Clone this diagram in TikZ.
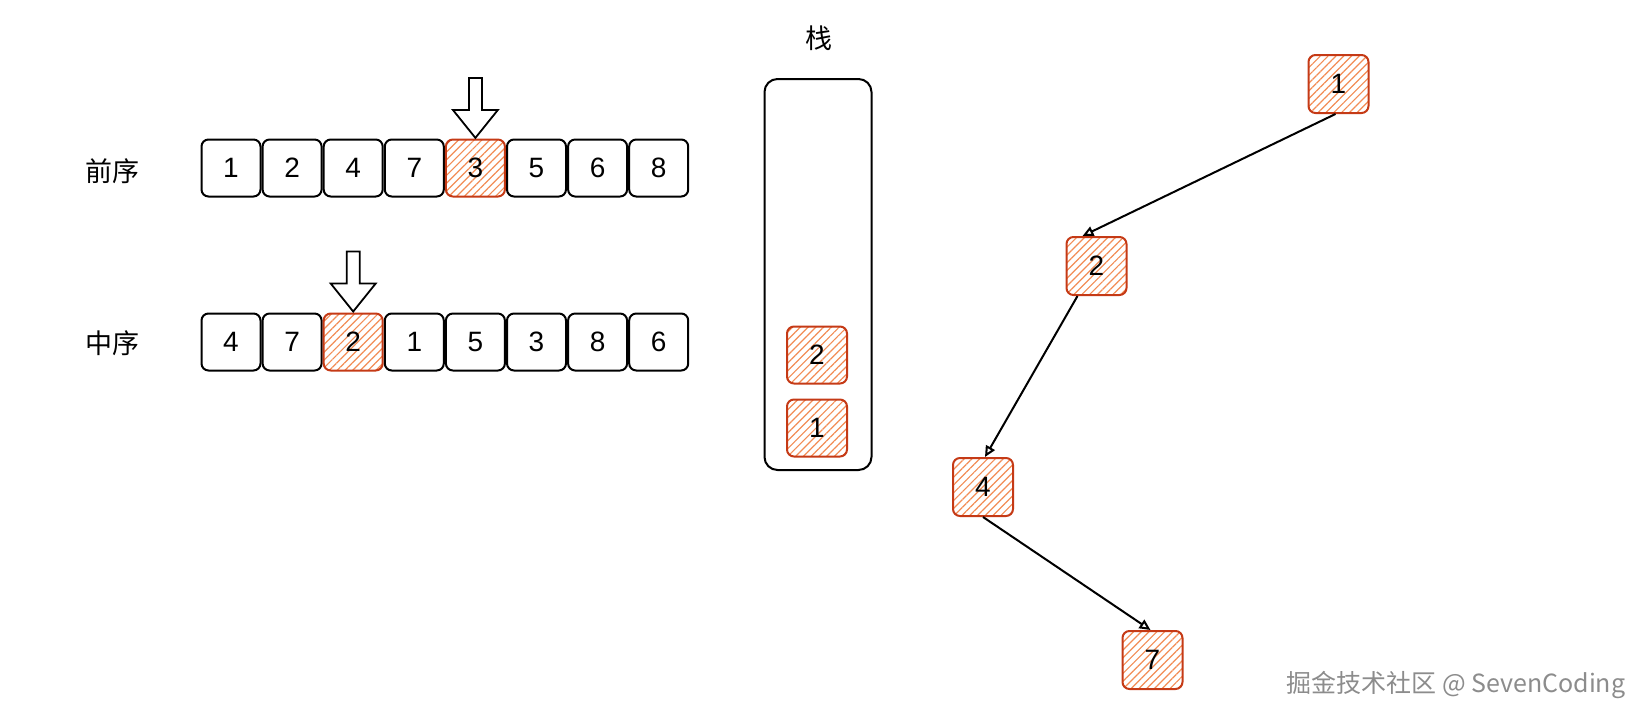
\documentclass[tikz,border=0pt]{standalone}
\usepackage{fontspec}
\setmainfont{Liberation Sans}
\newfontfamily\cjk{Noto Sans CJK SC}
\usetikzlibrary{patterns.meta,arrows.meta,calc}
\definecolor{hred}{HTML}{C53A16}
\definecolor{hfill}{HTML}{F28C55}
\definecolor{wm}{HTML}{8C8C8C}
\begin{document}
\begin{tikzpicture}[x=1pt,y=-1pt,
  cell/.style={draw=black, line width=2pt, rounded corners=7pt, minimum width=59pt, minimum height=57pt, inner sep=0pt, font=\fontsize{28}{28}\selectfont, fill=white},
  hot/.style={cell, draw=hred, pattern={Lines[angle=45,distance=5.5pt,line width=1.2pt]}, pattern color=hfill},
  tnode/.style={hot, minimum width=60pt, minimum height=58pt},
  lbl/.style={font=\cjk\fontsize{27}{27}\selectfont},
  blockarrow/.style={draw=black, line width=1.8pt, fill=white, line join=miter},
  edge/.style={draw=black, line width=2pt, -{Triangle[open,length=11pt,width=10pt]}},
  stackbox/.style={draw=black, line width=2pt, rounded corners=13pt, minimum width=107pt, minimum height=391pt, inner sep=0pt}
]
\useasboundingbox (0,0) rectangle (1647,723);

% labels
\node[lbl] (lpre) at (112,171) {前序};
\node[lbl] (lin) at (112,343) {中序};

% preorder row
\foreach \v [count=\i from 0] in {1,2,4,7,3,5,6,8}{
  \ifnum\i=4
    \node[hot] (pre\i) at ({231+61.1*\i},168) {\v};
  \else
    \node[cell] (pre\i) at ({231+61.1*\i},168) {\v};
  \fi
}
% inorder row
\foreach \v [count=\i from 0] in {4,7,2,1,5,3,8,6}{
  \ifnum\i=2
    \node[hot] (in\i) at ({231+61.1*\i},342) {\v};
  \else
    \node[cell] (in\i) at ({231+61.1*\i},342) {\v};
  \fi
}

% block arrows
\coordinate (ta) at ($(pre4.north)+(0,-1)$);
\draw[blockarrow] ($(ta)+(-6.5,-60)$) -- ($(ta)+(6.5,-60)$) -- ($(ta)+(6.5,-28)$) -- ($(ta)+(22.5,-28)$) -- (ta) -- ($(ta)+(-22.5,-28)$) -- ($(ta)+(-6.5,-28)$) -- cycle;
\coordinate (tb) at ($(in2.north)+(0,-1)$);
\draw[blockarrow] ($(tb)+(-6.5,-60)$) -- ($(tb)+(6.5,-60)$) -- ($(tb)+(6.5,-28)$) -- ($(tb)+(22.5,-28)$) -- (tb) -- ($(tb)+(-22.5,-28)$) -- ($(tb)+(-6.5,-28)$) -- cycle;

% stack
\node[lbl] (stitle) at (819,38) {栈};
\node[stackbox] (stack) at (818,274.5) {};
\node[hot, minimum width=60pt] (s2) at (817,355) {2};
\node[hot, minimum width=60pt] (s1) at (817,428) {1};

% tree
\node[tnode] (t1) at (1338.5,84) {1};
\node[tnode] (t2) at (1096.5,266) {2};
\node[tnode] (t4) at (983,487) {4};
\node[tnode] (t7) at (1152.5,660) {7};
\draw[edge] ($(t1.south)+(-3,0)$) -- ($(t2.north)+(-14,0)$);
\draw[edge] ($(t2.south)+(-19,0)$) -- ($(t4.north)+(2,0)$);
\draw[edge] (t4.south) -- ($(t7.north)+(-2,0)$);

% watermark
\node[font=\cjk\fontsize{25}{25}\selectfont, text=wm] (wmark) at (1456,685) {掘金技术社区 @ SevenCoding};
\end{tikzpicture}
\end{document}
